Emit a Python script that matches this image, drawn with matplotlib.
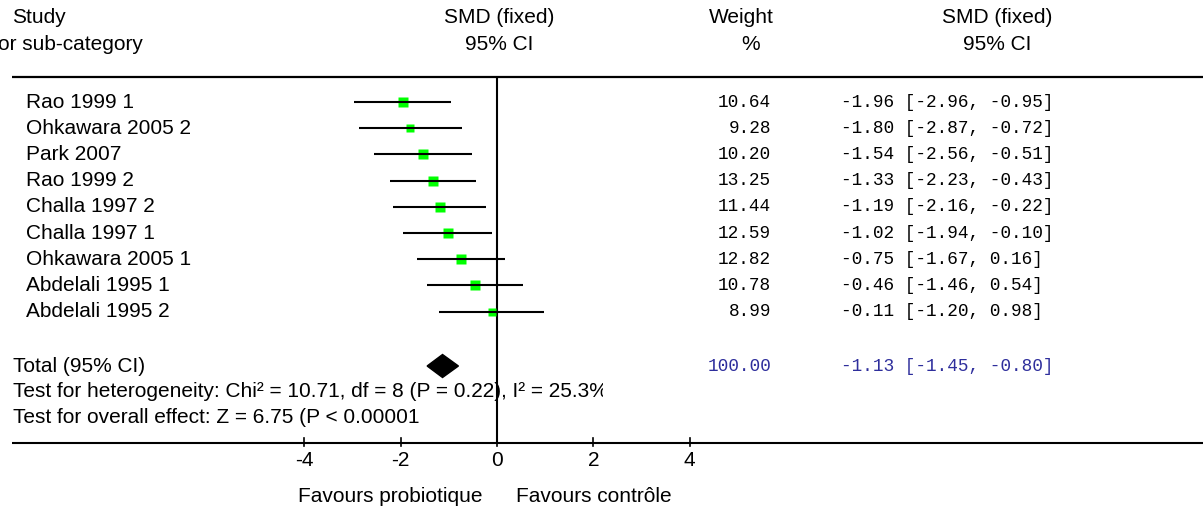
import numpy as np
import matplotlib.pyplot as plt
from matplotlib.patches import Polygon
from matplotlib.transforms import blended_transform_factory, Bbox, TransformedBbox

studies = ['Rao 1999 1', 'Ohkawara 2005 2', 'Park 2007', 'Rao 1999 2', 'Challa 1997 2',
           'Challa 1997 1', 'Ohkawara 2005 1', 'Abdelali 1995 1', 'Abdelali 1995 2']
smd = [-1.96, -1.80, -1.54, -1.33, -1.19, -1.02, -0.75, -0.46, -0.11]
ci_low = [-2.96, -2.87, -2.56, -2.23, -2.16, -1.94, -1.67, -1.46, -1.20]
ci_high = [-0.95, -0.72, -0.51, -0.43, -0.22, -0.10, 0.16, 0.54, 0.98]
weights = [10.64, 9.28, 10.20, 13.25, 11.44, 12.59, 12.82, 10.78, 8.99]
total_smd, total_low, total_high, total_weight = -1.13, -1.45, -0.80, 100.00
x_ticks = [-4, -2, 0, 2, 4]
heterogeneity = 'Test for heterogeneity: Chi² = 10.71, df = 8 (P = 0.22), I² = 25.3%'
overall = 'Test for overall effect: Z = 6.75 (P < 0.00001)'

W, H = 1203, 508
X0, XU = 497, 48.2      # pixel of zero line, pixels per unit
Y0, YU = 102, 26.2      # pixel of first row, pixels per row
SANS = 'Liberation Sans'
MONO = 'Liberation Mono'
FS = 15
FM = 12.8
NAVY = '#2e2e9c'

fig = plt.figure(figsize=(W / 100, H / 100), dpi=100)
ax = fig.add_axes([0, 0, 1, 1])
ax.set_xlim(-X0 / XU, (W - X0) / XU)
ax.set_ylim((H - Y0) / YU, -Y0 / YU)
ax.axis('off')

tr = blended_transform_factory(fig.transFigure, ax.transData)


def px(x):
    return x / W


def dx(x):
    return (x - X0) / XU


def ry(y):
    return (y - Y0) / YU


# header
h1, h2, hline = ry(17), ry(44), ry(77)
ax.text(px(12), h1, 'Study', transform=tr, fontsize=FS, family=SANS, va='center')
ax.text(px(-2), h2, 'or sub-category', transform=tr, fontsize=FS, family=SANS, va='center')
ax.text(px(499), h1, 'SMD (fixed)', transform=tr, fontsize=FS, family=SANS, va='center', ha='center')
ax.text(px(499), h2, '95% CI', transform=tr, fontsize=FS, family=SANS, va='center', ha='center')
ax.text(px(741), h1, 'Weight', transform=tr, fontsize=FS, family=SANS, va='center', ha='center')
ax.text(px(751), h2, '%', transform=tr, fontsize=FS, family=SANS, va='center', ha='center')
ax.text(px(997), h1, 'SMD (fixed)', transform=tr, fontsize=FS, family=SANS, va='center', ha='center')
ax.text(px(997), h2, '95% CI', transform=tr, fontsize=FS, family=SANS, va='center', ha='center')
ax.plot([dx(12), dx(W)], [hline, hline], color='black', lw=1.6, solid_capstyle='butt')

axis_y = ry(443)

# zero line
ax.plot([0, 0], [hline, axis_y], color='black', lw=1.5, solid_capstyle='butt')

rows = np.arange(len(studies))
for r, name, m, lo, hi, w in zip(rows, studies, smd, ci_low, ci_high, weights):
    ax.text(px(26), r, name, transform=tr, fontsize=FS, family=SANS, va='center')
    ax.plot(m, r, marker='s', ms=6.9 * np.sqrt(w / 11.5), color='#00ff00', mec='none', zorder=2)
    ax.plot([lo, hi], [r, r], color='black', lw=1.5, solid_capstyle='butt', zorder=3)
    ax.text(px(771), r, f'{w:.2f}', transform=tr, fontsize=FM, family=MONO, va='center', ha='right')
    ax.text(px(841), r, f'{m:.2f} [{lo:.2f}, {hi:.2f}]', transform=tr, fontsize=FM,
            family=MONO, va='center')

# total
rt = ry(366)
ax.text(px(13), rt, 'Total (95% CI)', transform=tr, fontsize=FS, family=SANS, va='center')
hh = 11.5 / YU
ax.add_patch(Polygon([[total_low, rt], [total_smd, rt - hh], [total_high, rt], [total_smd, rt + hh]],
                     closed=True, color='black', zorder=4))
ax.text(px(771), rt, f'{total_weight:.2f}', transform=tr, fontsize=FM, family=MONO,
        va='center', ha='right', color=NAVY)
ax.text(px(841), rt, f'{total_smd:.2f} [{total_low:.2f}, {total_high:.2f}]', transform=tr,
        fontsize=FM, family=MONO, va='center', color=NAVY)

# footer texts are cut off in the original
t1 = ax.text(px(13), ry(391), heterogeneity, transform=tr, fontsize=FS, family=SANS, va='center')
t1.set_clip_box(TransformedBbox(Bbox([[0, 0], [603 / W, 1]]), fig.transFigure))
t1.set_clip_on(True)
t2 = ax.text(px(13), ry(417), overall, transform=tr, fontsize=FS, family=SANS, va='center')
t2.set_clip_box(TransformedBbox(Bbox([[0, 0], [419 / W, 1]]), fig.transFigure))
t2.set_clip_on(True)

# x axis
ax.plot([dx(12), dx(W)], [axis_y, axis_y], color='black', lw=1.5, solid_capstyle='butt')
for t in x_ticks:
    ax.plot([t, t], [axis_y - 5 / YU, axis_y + 3 / YU], color='black', lw=1.2)
    ax.text(t, ry(460), f'{t:d}', fontsize=FS, family=SANS, va='center', ha='center')

ax.text(px(483), ry(496), 'Favours probiotique', transform=tr, fontsize=FS, family=SANS,
        va='center', ha='right')
ax.text(px(516), ry(496), 'Favours contrôle', transform=tr, fontsize=FS, family=SANS,
        va='center', ha='left')

fig.savefig('out.png', dpi=100)
